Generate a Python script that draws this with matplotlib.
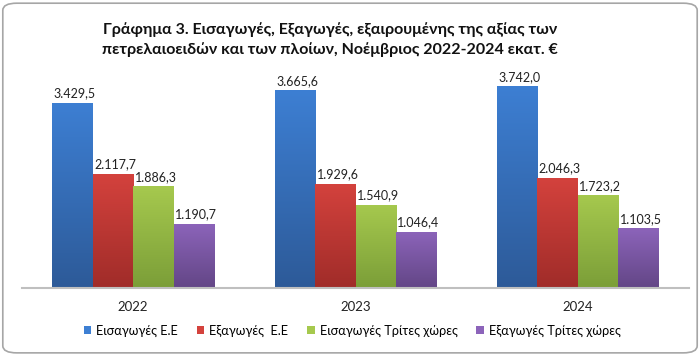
import numpy as np
import matplotlib
matplotlib.use("Agg")
import matplotlib.pyplot as plt
from matplotlib.colors import LinearSegmentedColormap
from matplotlib.patches import FancyBboxPatch

plt.rcParams['font.family'] = ['Lato', 'DejaVu Sans']

# data
years = ['2022', '2023', '2024']
series_names = ['Εισαγωγές Ε.Ε', 'Εξαγωγές  Ε.Ε',
                'Εισαγωγές Τρίτες χώρες', 'Εξαγωγές Τρίτες χώρες']
imports_eu = [3429.5, 3665.6, 3742.0]
exports_eu = [2117.7, 1929.6, 2046.3]
imports_third = [1886.3, 1540.9, 1723.2]
exports_third = [1190.7, 1046.4, 1103.5]

title = ('Γράφημα 3. Εισαγωγές, Εξαγωγές, εξαιρουμένης της αξίας των\n'
         'πετρελαιοειδών και των πλοίων, Νοέμβριος 2022-2024 εκατ. €')

# (top colour, bottom colour) for the excel style gradient
colors = [('#3d7fd3', '#2d5a98'),
          ('#d4423d', '#a02c29'),
          ('#a6c94e', '#7b9e38'),
          ('#8c64ba', '#634686')]


def greek_fmt(v):
    # 3429.5 -> 3.429,5
    s = '{:,.1f}'.format(v)
    return s.replace(',', 'X').replace('.', ',').replace('X', '.')


fig = plt.figure(figsize=(7, 3.55), dpi=100)

# rounded chart border
border = FancyBboxPatch((0.004, 0.006), 0.992, 0.985,
                        boxstyle='round,pad=0,rounding_size=0.02',
                        transform=fig.transFigure, facecolor='none',
                        edgecolor='#a6a6a6', linewidth=1.2, zorder=-1)
fig.patches.append(border)

ax = fig.add_axes([0.0314, 0.1887, 0.953, 0.6085])
ax.patch.set_alpha(0)

x = np.arange(len(years))
w = 1 / 5.5
all_series = [imports_eu, exports_eu, imports_third, exports_third]

for i, vals in enumerate(all_series):
    offs = (i - 1.5) * w
    bars = ax.bar(x + offs, vals, width=w, color=colors[i][0],
                  label=series_names[i], zorder=2)
    cmap = LinearSegmentedColormap.from_list('g%d' % i,
                                             [colors[i][1], colors[i][0]])
    grad = np.linspace(0, 1, 256).reshape(-1, 1)
    for b, v in zip(bars, vals):
        b.set_facecolor('none')
        b.set_edgecolor('none')
        x0 = b.get_x()
        im = ax.imshow(grad, cmap=cmap, aspect='auto', origin='lower',
                       extent=(x0, x0 + b.get_width(), 0, v), zorder=2)
        im.set_clip_path(b)
        ax.text(x0 + b.get_width() / 2 + 0.01, v + 60, greek_fmt(v),
                ha='center', va='bottom', fontsize=9, color='#222222')

ax.set_xlim(-0.5, 2.5)
ax.set_ylim(0, 4000)
ax.set_xticks(x)
ax.set_xticklabels(years, fontsize=9.5, color='#222222')
ax.tick_params(axis='x', length=0, pad=9)
ax.set_yticks([])
for s in ['top', 'right', 'left']:
    ax.spines[s].set_visible(False)
ax.spines['bottom'].set_color('#bfbfbf')
ax.spines['bottom'].set_linewidth(1.5)
ax.spines['bottom'].set_zorder(3)

fig.text(0.471, 0.937, title, ha='center', va='top', fontsize=11.5,
         fontweight='bold', linespacing=1.45, color='#111111')

# legend with plain square markers
proxies = [plt.Rectangle((0, 0), 1, 1, facecolor=c[0]) for c in colors]
fig.legend(proxies, series_names, loc='center', bbox_to_anchor=(0.503, 0.068),
           ncol=4, frameon=False, fontsize=9.2, handlelength=0.6,
           handleheight=0.6, handletextpad=0.4, columnspacing=1.45)

fig.savefig('out.png', dpi=100)
